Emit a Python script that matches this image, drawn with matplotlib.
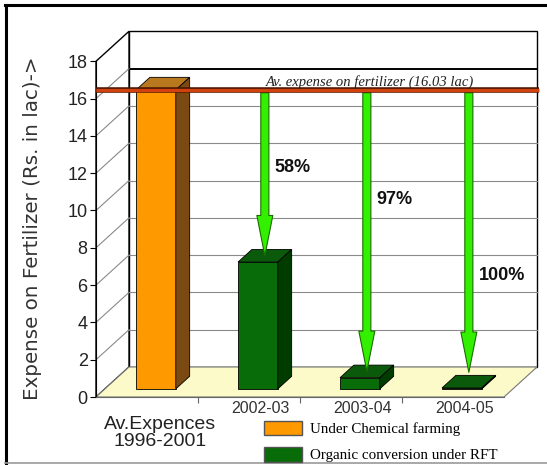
import matplotlib
matplotlib.use('Agg')
import matplotlib.pyplot as plt
from matplotlib.patches import Polygon, Patch, FancyArrowPatch
from matplotlib.lines import Line2D
import matplotlib.patheffects as pe

plt.rcParams['font.family'] = ['Liberation Sans', 'DejaVu Sans']

# data
categories = ['Av.Expences\n1996-2001', '2002-03', '2003-04', '2004-05']
expense = [16.03, 6.8, 0.6, 0.05]
avg_expense = 16.03
reduction = ['58%', '97%', '100%']
reduction_y = [12.3, 10.6, 6.5]
legend_labels = ['Under Chemical farming', 'Organic conversion under RFT']

W, H = 547, 465
fig = plt.figure(figsize=(W / 100, H / 100), dpi=100)

# front plane of the fake 3d box, in pixels
x0px, x1px, y0px, pxu = 96, 504, 397, 18.65
ax = fig.add_axes([x0px / W, (H - y0px) / H, (x1px - x0px) / W, 18 * pxu / H])
ax.set_xlim(0, 4)
ax.set_ylim(0, 18)
ax.patch.set_visible(False)

DX = 33 / 102.0      # depth offset in category units
DY = 30 / pxu        # depth offset in value units


def P(x, y, d):
    return (x + d * DX, y + d * DY)


def poly(pts, **kw):
    ax.add_patch(Polygon(pts, closed=True, clip_on=False, **kw))


# walls and floor
poly([P(0, 0, 1), P(4, 0, 1), P(4, 18, 1), P(0, 18, 1)], fc='white', ec='black', lw=1, zorder=0)
poly([P(0, 0, 0), P(0, 18, 0), P(0, 18, 1), P(0, 0, 1)], fc='white', ec='black', lw=1, zorder=0)
for v in range(2, 18, 2):
    a, b = P(0, v, 1), P(4, v, 1)
    if v == 16:
        ax.plot([a[0], b[0]], [a[1], b[1]], color='black', lw=1.4, zorder=0.5, clip_on=False)
    else:
        ax.plot([a[0], b[0]], [a[1], b[1]], color='#8a8a8a', lw=0.8, zorder=0.5, clip_on=False)
    c = P(0, v, 0)
    ax.plot([c[0], a[0]], [c[1], a[1]], color='#8a8a8a', lw=0.8, zorder=0.5, clip_on=False)
poly([P(0, 0, 0), P(4, 0, 0), P(4, 0, 1), P(0, 0, 1)], fc='#fcfac8', ec='#777777', lw=0.8, zorder=1)

# bars
bw = 0.39
d0, d1 = 0.27, 0.69
dm = (d0 + d1) / 2
front = ['#ff9900', '#086c08', '#086c08', '#086c08']
side = ['#7a4a12', '#003c00', '#003c00', '#003c00']
top = ['#b8781e', '#0b5a0b', '#0b5a0b', '#0b5a0b']
xs = [i + 0.5 + d0 * DX for i in range(len(categories))]
ax.bar(xs, expense, bw, bottom=d0 * DY, color=front, edgecolor='black', lw=0.6,
       zorder=3, clip_on=False)
for i, v in enumerate(expense):
    xl = i + 0.5 - bw / 2
    xr = i + 0.5 + bw / 2
    poly([P(xl, v, d0), P(xr, v, d0), P(xr, v, d1), P(xl, v, d1)], fc=top[i], ec='black', lw=0.6, zorder=3)
    poly([P(xr, 0, d0), P(xr, v, d0), P(xr, v, d1), P(xr, 0, d1)], fc=side[i], ec='black', lw=0.6, zorder=3)

# average line
yv = avg_expense + d0 * DY
ax.plot([0, 4 + DX + 0.02], [yv, yv], color='#d2420e', lw=2.4, solid_capstyle='butt', zorder=6,
        clip_on=False, path_effects=[pe.Stroke(linewidth=4.0, foreground='#4a1500'), pe.Normal()])
ax.text(2.686, 16.9, 'Av. expense on fertilizer (16.03 lac)', family='Liberation Serif',
        style='italic', fontsize=10.5, ha='center', va='center', color='#222222', zorder=6)

# arrows with reduction percentages
for k, i in enumerate(range(1, 4)):
    xa = i + 0.5 + dm * DX
    yb = max(expense[i], 0.55) + dm * DY
    arr = FancyArrowPatch((xa, yv), (xa, yb),
                          arrowstyle='simple,head_length=29,head_width=11.5,tail_width=5.8',
                          mutation_scale=1, fc='#33f000', ec='#1b6b00', lw=0.8,
                          shrinkA=2, shrinkB=0, zorder=5, clip_on=False)
    ax.add_patch(arr)
    ax.text(xa + 10 / 102, reduction_y[k], reduction[k], fontsize=13, fontweight='bold',
            ha='left', va='center', color='#111111', zorder=6)

# axes styling
for s in ['top', 'right']:
    ax.spines[s].set_visible(False)
ax.spines['left'].set_color('black')
ax.spines['bottom'].set_color('#666666')
ax.set_yticks(range(0, 19, 2))
ax.tick_params(axis='y', length=4, pad=2, labelsize=13, labelcolor='#222222')
ax.set_xticks([1, 2, 3])
ax.set_xticklabels([])
ax.tick_params(axis='x', length=4, color='#666666')

# category labels
ax.text(0.5 + 0.13, -1.92, categories[0], fontsize=14, ha='center', va='center',
        color='#222222', linespacing=1.0, clip_on=False)
for i in range(1, 4):
    ax.text(i + 0.5 + 0.11, -0.62, categories[i], fontsize=11.5, ha='center', va='center',
            color='#333333', clip_on=False)

fig.text(33 / W, 1 - 228 / H, 'Expense on Fertilizer (Rs. in lac)->', rotation=90,
         ha='center', va='center', fontsize=14.3, family='DejaVu Sans', color='#333333')

handles = [Patch(fc='#ff9900', ec='#555555'), Patch(fc='#086c08', ec='#555555')]
fig.legend(handles, legend_labels, loc='upper left', bbox_to_anchor=(264 / W, 1 - 421 / H),
           frameon=False, prop={'family': 'Liberation Serif', 'size': 10.8},
           handlelength=2.5, handleheight=1.1, handletextpad=0.6, labelspacing=0.72,
           borderpad=0, borderaxespad=0)

# outer frame
fig.add_artist(Line2D([5.5 / W, 5.5 / W], [1 - 463 / H, 1 - 5 / H], color='black', lw=2.2,
                      transform=fig.transFigure))
fig.add_artist(Line2D([5 / W, 1.0], [1 - 5.5 / H, 1 - 5.5 / H], color='black', lw=2.2,
                      transform=fig.transFigure))
fig.add_artist(Line2D([5 / W, 1.0], [1 - 463 / H, 1 - 463 / H], color='#999999', lw=1.2,
                      transform=fig.transFigure))

fig.savefig('out.png', dpi=100)
